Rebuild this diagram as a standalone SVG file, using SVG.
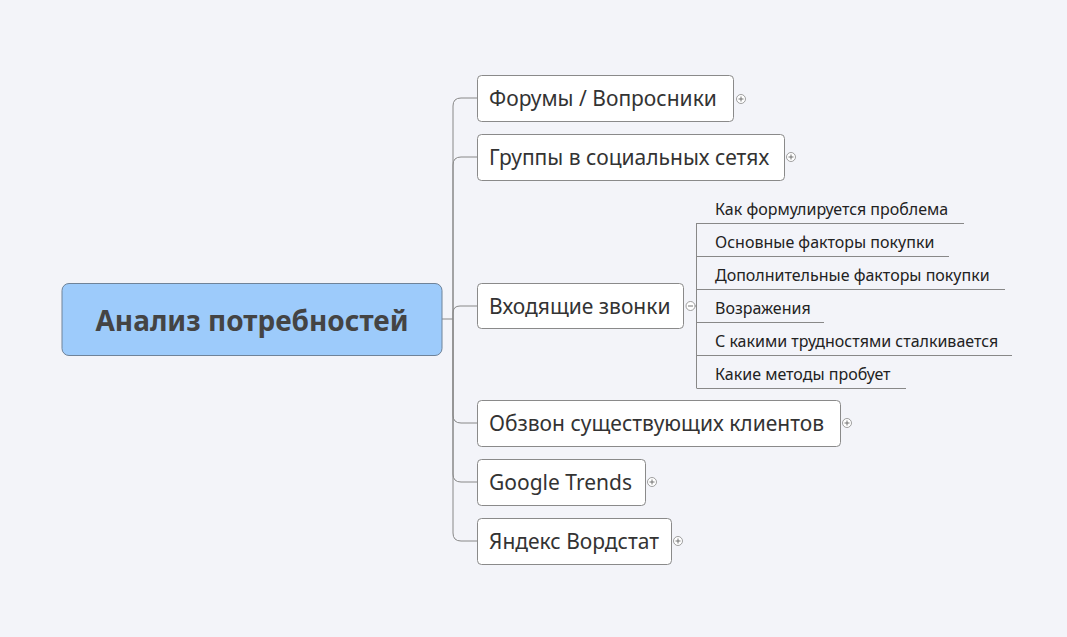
<svg xmlns="http://www.w3.org/2000/svg" width="1067" height="637" viewBox="0 0 1067 637">
<defs>
<style>
.bg{fill:#f3f4f9}
.box{fill:#ffffff;stroke:#8a8a8a;stroke-width:1}
.root{fill:#9dcbfb;stroke:#6f8399;stroke-width:1}
.t{font-family:"Noto Sans","Open Sans","DejaVu Sans",sans-serif;font-size:21px;fill:#333333}
.s{font-family:"Noto Sans","Open Sans","DejaVu Sans",sans-serif;font-size:16px;fill:#222222}
.rt{font-family:"Noto Sans","Open Sans","DejaVu Sans",sans-serif;font-size:28px;font-weight:bold;fill:#444444}
.ln{fill:none;stroke:#888888;stroke-width:1}
.ic{fill:#ffffff;stroke:#888888;stroke-width:0.8}
.icl{stroke:#666666;stroke-width:0.9}
</style>
<g id="plus"><circle class="ic" cx="0" cy="0" r="4.5"/><path class="icl" d="M-2.5,0H2.5M0,-2.5V2.5"/></g>
</defs>
<rect class="bg" x="0" y="0" width="1067" height="637"/>
<g id="connectors">
<path class="ln" d="M442,319H453"/>
<path class="ln" d="M453,319V106Q453,98 461,98H477"/>
<path class="ln" d="M453,319V165Q453,157 461,157H477"/>
<path class="ln" d="M453,319V313Q453,306 460,306H477"/>
<path class="ln" d="M453,319V415Q453,423 461,423H477"/>
<path class="ln" d="M453,319V474Q453,482 461,482H477"/>
<path class="ln" d="M453,319V533Q453,541 461,541H477"/>
<path class="ln" d="M695,306H696.5M696.5,223V388"/>
<path class="ln" d="M696.5,223.5H964"/>
<path class="ln" d="M696.5,256.5H949"/>
<path class="ln" d="M696.5,289.5H1005"/>
<path class="ln" d="M696.5,322.5H824"/>
<path class="ln" d="M696.5,355.5H1012"/>
<path class="ln" d="M696.5,388.5H906"/>
</g>
<g id="root">
<rect class="root" x="62" y="283.5" width="380" height="72" rx="7"/>
<text class="rt" x="252" y="331" text-anchor="middle">Анализ потребностей</text>
</g>
<g id="n1">
<rect class="box" x="477.5" y="75.5" width="256" height="46" rx="4"/>
<text class="t" x="489" y="106">Форумы / Вопросники</text>
<use href="#plus" x="741" y="99"/>
</g>
<g id="n2">
<rect class="box" x="477.5" y="134.5" width="307" height="46" rx="4"/>
<text class="t" x="489" y="165">Группы в социальных сетях</text>
<use href="#plus" x="791" y="157"/>
</g>
<g id="n3">
<rect class="box" x="477.5" y="283.5" width="206" height="45" rx="4"/>
<text class="t" x="489" y="314">Входящие звонки</text>
<circle class="ic" cx="690.5" cy="306" r="4.5"/>
<path class="icl" d="M688,306H693"/>
</g>
<g id="s1"><text class="s" x="715" y="215">Как формулируется проблема</text></g>
<g id="s2"><text class="s" x="715" y="248">Основные факторы покупки</text></g>
<g id="s3"><text class="s" x="715" y="281">Дополнительные факторы покупки</text></g>
<g id="s4"><text class="s" x="715" y="314">Возражения</text></g>
<g id="s5"><text class="s" x="715" y="347">С какими трудностями сталкивается</text></g>
<g id="s6"><text class="s" x="715" y="380">Какие методы пробует</text></g>
<g id="n4">
<rect class="box" x="477.5" y="400.5" width="363" height="46" rx="4"/>
<text class="t" x="489" y="431">Обзвон существующих клиентов</text>
<use href="#plus" x="847" y="423"/>
</g>
<g id="n5">
<rect class="box" x="477.5" y="459.5" width="168" height="46" rx="4"/>
<text class="t" x="489" y="490">Google Trends</text>
<use href="#plus" x="652" y="482"/>
</g>
<g id="n6">
<rect class="box" x="477.5" y="518.5" width="194" height="46" rx="4"/>
<text class="t" x="489" y="549">Яндекс Вордстат</text>
<use href="#plus" x="678" y="541"/>
</g>
</svg>
